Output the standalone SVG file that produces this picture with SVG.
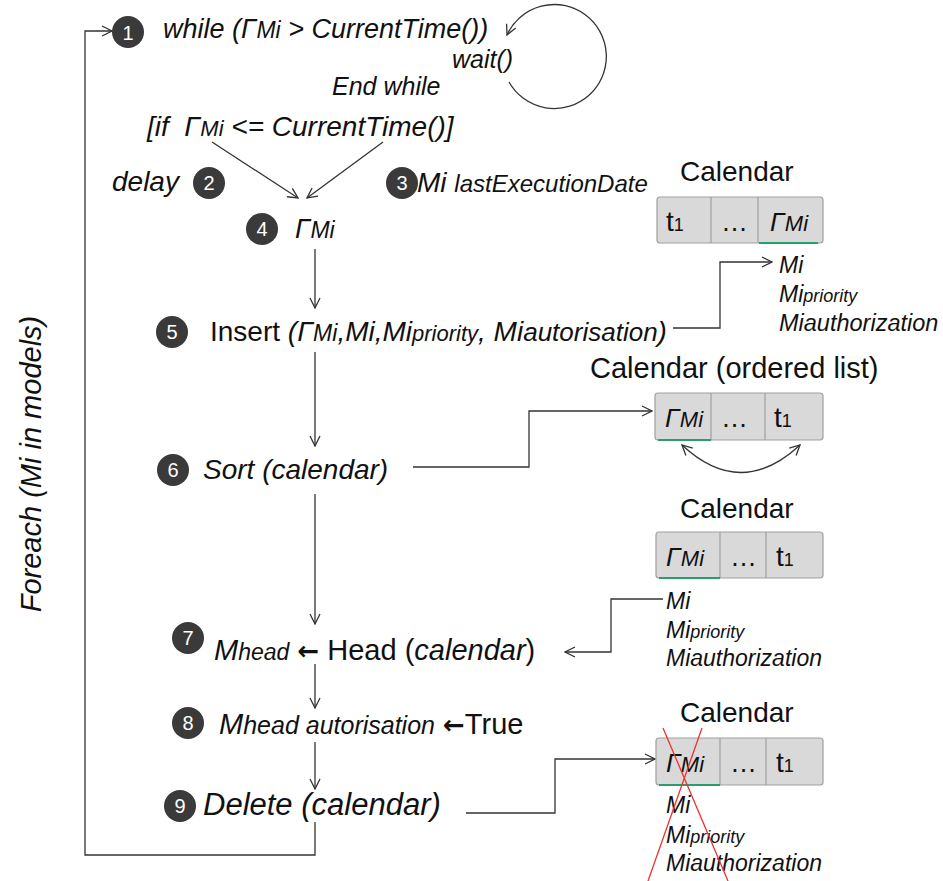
<svg xmlns="http://www.w3.org/2000/svg" width="943" height="881" viewBox="0 0 943 881">
<style>
text{font-family:"Liberation Sans",Arial,sans-serif;fill:#111}
.i{font-style:italic}
.num{fill:#fff;font-size:20px;text-anchor:middle}
.dot{fill:#3a3a3a}
.arr{font-family:"DejaVu Sans",sans-serif;font-style:normal;font-weight:bold}
.ln{fill:none;stroke:#333;stroke-width:1.3}
.cell{fill:#d9d9d9;stroke:#a0a0a0;stroke-width:1.2}
.grn{stroke:#2a9d6a;stroke-width:2}
.red{stroke:#f03030;stroke-width:1.3}
</style>
<defs>
<marker id="a" viewBox="0 0 12 12" refX="11" refY="6" markerWidth="12" markerHeight="12" markerUnits="userSpaceOnUse" orient="auto-start-reverse">
<path d="M1,1 L11,6 L1,11" fill="none" stroke="#333" stroke-width="1.3"/>
</marker>
</defs>
<rect width="943" height="881" fill="#fff"/>

<g id="connectors">
<path class="ln" d="M509,82 A52,52 0 1 0 507,35" marker-end="url(#a)"/>
<path class="ln" d="M212,142 L298,198" marker-end="url(#a)"/>
<path class="ln" d="M383,142 L307,198" marker-end="url(#a)"/>
<path class="ln" d="M315,249 V308" marker-end="url(#a)"/>
<path class="ln" d="M315,352 V446" marker-end="url(#a)"/>
<path class="ln" d="M315,494 V624" marker-end="url(#a)"/>
<path class="ln" d="M315,664 V708" marker-end="url(#a)"/>
<path class="ln" d="M315,742 V789" marker-end="url(#a)"/>
<path class="ln" d="M315,822 V855 H85 V31 H112" marker-end="url(#a)"/>
<path class="ln" d="M673,328 H720 V262 H772" marker-end="url(#a)"/>
<path class="ln" d="M413,467 H529 V411 H652" marker-end="url(#a)"/>
<path class="ln" d="M663,599 H611 V652 H565" marker-end="url(#a)"/>
<path class="ln" d="M466,813 H555 V759 H655" marker-end="url(#a)"/>
<path class="ln" d="M682,445 Q741,500 800,445" marker-start="url(#a)" marker-end="url(#a)"/>
</g>

<g id="foreach">
<text class="i" font-size="29" text-anchor="middle" transform="translate(41,464) rotate(-90)">Foreach (Mi in models)</text>
</g>

<g id="n1">
<circle class="dot" cx="128" cy="32" r="16"/><text class="num" x="128" y="40">1</text>
<text class="i" x="163" y="38" font-size="27">while (<tspan>Γ</tspan><tspan font-size="23">Mi</tspan> &gt; CurrentTime())</text>
<text class="i" x="452" y="68" font-size="25">wait()</text>
<text class="i" x="332" y="95" font-size="25">End while</text>
</g>

<g id="cond">
<text class="i" x="147" y="136" font-size="28" xml:space="preserve">[if  Γ<tspan font-size="22">Mi</tspan> &lt;= CurrentTime()]</text>
</g>

<g id="n2">
<text class="i" x="112" y="191" font-size="28">delay</text>
<circle class="dot" cx="209" cy="183" r="16"/><text class="num" x="209" y="190">2</text>
</g>

<g id="n3">
<circle class="dot" cx="402" cy="183" r="16"/><text class="num" x="402" y="190">3</text>
<text class="i" x="417" y="192" font-size="28">Mi <tspan font-size="24">lastExecutionDate</tspan></text>
</g>

<g id="n4">
<circle class="dot" cx="262" cy="229" r="16"/><text class="num" x="262" y="236">4</text>
<text class="i" x="295" y="238" font-size="27">Γ<tspan font-size="23">Mi</tspan></text>
</g>

<g id="n5">
<circle class="dot" cx="172" cy="332" r="16"/><text class="num" x="172" y="339">5</text>
<text x="210" y="341" font-size="28">Insert <tspan class="i">(Γ<tspan font-size="23">Mi</tspan>,Mi,Mi<tspan font-size="22">priority</tspan>, Mi<tspan font-size="26">autorisation</tspan>)</tspan></text>
</g>

<g id="n6">
<circle class="dot" cx="173" cy="470" r="16"/><text class="num" x="173" y="477">6</text>
<text class="i" x="203" y="479" font-size="28">Sort (calendar)</text>
</g>

<g id="n7">
<circle class="dot" cx="188" cy="638" r="16"/><text class="num" x="188" y="645">7</text>
<text x="214" y="660" font-size="29" xml:space="preserve"><tspan class="i">M<tspan font-size="23">head</tspan></tspan> <tspan class="arr" font-size="26">←</tspan> Head (<tspan class="i">calendar</tspan>)</text>
</g>

<g id="n8">
<circle class="dot" cx="188" cy="723" r="16"/><text class="num" x="188" y="730">8</text>
<text x="219" y="734" font-size="29"><tspan class="i">M<tspan font-size="25">head autorisation</tspan></tspan> <tspan class="arr" font-size="26">←</tspan>True</text>
</g>

<g id="n9">
<circle class="dot" cx="180" cy="806" r="16"/><text class="num" x="180" y="813">9</text>
<text class="i" x="203" y="815" font-size="31">Delete (calendar)</text>
</g>

<g id="cal1">
<text x="680" y="181" font-size="28">Calendar</text>
<rect class="cell" x="657" y="197" width="166" height="46" rx="3"/>
<path class="cell" d="M711,197 V243 M758,197 V243"/>
<path class="grn" d="M759,243 H818"/>
<text x="666" y="231" font-size="28">t<tspan font-size="18">1</tspan></text>
<text x="721" y="231" font-size="27">…</text>
<text class="i" x="770" y="231" font-size="26">Γ<tspan font-size="22">Mi</tspan></text>
<text class="i" x="779" y="273" font-size="23">Mi</text>
<text class="i" x="779" y="302" font-size="23">Mi<tspan font-size="18">priority</tspan></text>
<text class="i" x="779" y="331" font-size="23.5">Miauthorization</text>
</g>

<g id="cal2">
<text x="590" y="378" font-size="29">Calendar (ordered list)</text>
<rect class="cell" x="655" y="393" width="168" height="47" rx="3"/>
<path class="cell" d="M711,393 V440 M765,393 V440"/>
<path class="grn" d="M658,440 H711"/>
<text class="i" x="665" y="427" font-size="26">Γ<tspan font-size="22">Mi</tspan></text>
<text x="721" y="427" font-size="27">…</text>
<text x="774" y="427" font-size="28">t<tspan font-size="18">1</tspan></text>
</g>

<g id="cal3">
<text x="680" y="518" font-size="28">Calendar</text>
<rect class="cell" x="656" y="532" width="167" height="46" rx="3"/>
<path class="cell" d="M720,532 V578 M766,532 V578"/>
<path class="grn" d="M659,578 H720"/>
<text class="i" x="666" y="566" font-size="26">Γ<tspan font-size="22">Mi</tspan></text>
<text x="730" y="566" font-size="27">…</text>
<text x="776" y="566" font-size="28">t<tspan font-size="18">1</tspan></text>
<text class="i" x="666" y="609" font-size="23">Mi</text>
<text class="i" x="666" y="638" font-size="23">Mi<tspan font-size="18">priority</tspan></text>
<text class="i" x="666" y="666" font-size="23">Miauthorization</text>
</g>

<g id="cal4">
<text x="680" y="722" font-size="28">Calendar</text>
<rect class="cell" x="656" y="738" width="167" height="47" rx="3"/>
<path class="cell" d="M720,738 V785 M766,738 V785"/>
<path class="grn" d="M659,785 H720"/>
<text class="i" x="666" y="772" font-size="26">Γ<tspan font-size="22">Mi</tspan></text>
<text x="730" y="772" font-size="27">…</text>
<text x="776" y="772" font-size="28">t<tspan font-size="18">1</tspan></text>
<text class="i" x="666" y="813" font-size="23">Mi</text>
<text class="i" x="666" y="843" font-size="23">Mi<tspan font-size="18">priority</tspan></text>
<text class="i" x="666" y="871" font-size="23">Miauthorization</text>
<path class="red" d="M663,728 L728,881 M702,728 L648,881"/>
</g>
</svg>
